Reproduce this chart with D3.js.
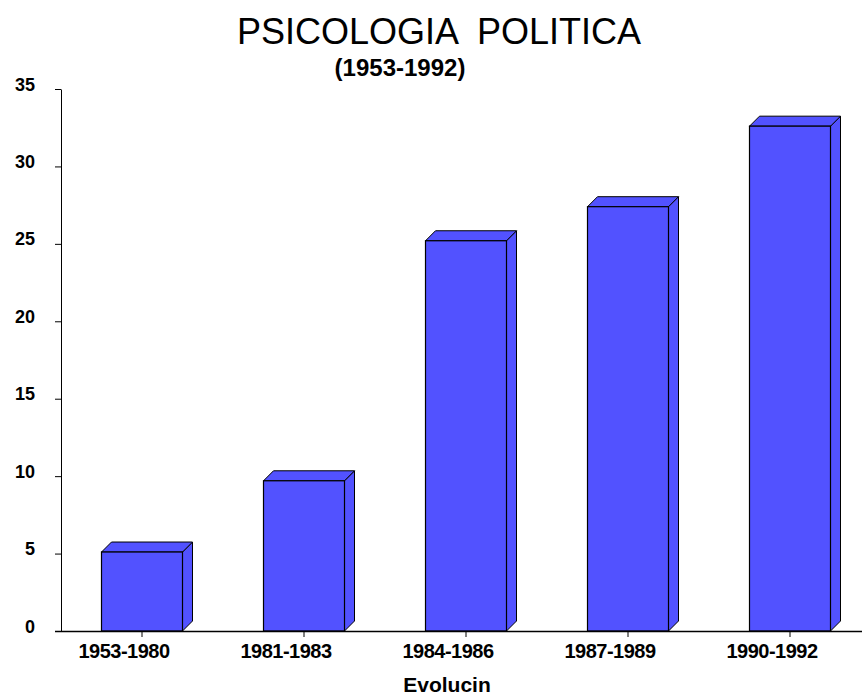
<!DOCTYPE html>
<html>
<head>
<meta charset="utf-8">
<script src="https://cdn.jsdelivr.net/npm/d3@7"></script>
<style>
  html, body { margin: 0; padding: 0; background: #fff; }
  svg { display: block; }
  text { font-family: "Liberation Sans", Arial, sans-serif; fill: #000; }
</style>
</head>
<body>
<svg id="chart" width="862" height="697"></svg>
<script>
// Periods and number of publications per period
const categories = ["1953-1980", "1981-1983", "1984-1986", "1987-1989", "1990-1992"];
const values = [5.1, 9.7, 25.2, 27.4, 32.6];
const yTicks = [0, 5, 10, 15, 20, 25, 30, 35];

const svg = d3.select("#chart");
const W = 862, H = 697;
const plot = { left: 61, right: 871, top: 89, bottom: 631 };
const depth = 10;
const barFill = "#5252FF";
const labelShift = -18; // category labels sit a little left of their ticks

const x = d3.scaleBand()
  .domain(categories)
  .range([plot.left, plot.right])
  .paddingInner(0.5)
  .paddingOuter(0.25);

const y = d3.scaleLinear()
  .domain([0, 35])
  .range([plot.bottom, plot.top]);

// Title
svg.append("text")
  .attr("x", 439).attr("y", 44)
  .attr("text-anchor", "middle")
  .style("font-size", "36px")
  .style("white-space", "pre")
  .text("PSICOLOGIA  POLITICA");

svg.append("text")
  .attr("x", 400).attr("y", 76)
  .attr("text-anchor", "middle")
  .style("font-size", "24px").style("font-weight", "bold")
  .text("(1953-1992)");

// Y axis
const yAxis = svg.append("g")
  .attr("transform", `translate(${plot.left},0)`)
  .call(d3.axisLeft(y).tickValues(yTicks).tickSize(6).tickPadding(20).tickSizeOuter(0));
yAxis.select(".domain").attr("stroke", "#000").attr("stroke-width", 1);
yAxis.selectAll(".tick line").attr("stroke", "#000");
yAxis.selectAll(".tick text")
  .style("font-size", "18px").style("font-weight", "bold")
  .attr("font-family", null)
  .attr("dy", "1px");

// Bars with a simple 3D extrusion
const bars = svg.append("g").selectAll("g.bar")
  .data(categories.map((c, i) => ({ c, v: values[i] })))
  .join("g").attr("class", "bar");

bars.append("path") // side face
  .attr("d", d => {
    const x1 = x(d.c) + x.bandwidth(), yt = y(d.v), yb = y(0);
    return `M${x1},${yt} L${x1 + depth},${yt - depth} L${x1 + depth},${yb - depth} L${x1},${yb} Z`;
  })
  .attr("fill", barFill).attr("stroke", "#000").attr("stroke-width", 1).attr("stroke-linejoin", "round");

bars.append("path") // top face
  .attr("d", d => {
    const x0 = x(d.c), x1 = x0 + x.bandwidth(), yt = y(d.v);
    return `M${x0},${yt} L${x0 + depth},${yt - depth} L${x1 + depth},${yt - depth} L${x1},${yt} Z`;
  })
  .attr("fill", barFill).attr("stroke", "#000").attr("stroke-width", 1).attr("stroke-linejoin", "round");

bars.append("rect") // front face
  .attr("x", d => x(d.c))
  .attr("y", d => y(d.v))
  .attr("width", x.bandwidth())
  .attr("height", d => y(0) - y(d.v))
  .attr("fill", barFill).attr("stroke", "#000").attr("stroke-width", 1.2);

// X axis
const xAxis = svg.append("g")
  .attr("transform", `translate(0,${plot.bottom})`)
  .call(d3.axisBottom(x).tickSize(6).tickPadding(6).tickSizeOuter(0));
xAxis.select(".domain").attr("d", `M${plot.left - 6},0.5H${W}`).attr("stroke", "#000").attr("stroke-width", 1.5);
xAxis.selectAll(".tick line").attr("stroke", "#000");
xAxis.selectAll(".tick text")
  .style("font-size", "20px").style("font-weight", "bold")
  .style("letter-spacing", "-0.5px")
  .attr("font-family", null)
  .attr("x", labelShift)
  .attr("y", 27)
  .attr("dy", null);

// X axis title
svg.append("text")
  .attr("x", 447).attr("y", 692)
  .attr("text-anchor", "middle")
  .style("font-size", "21px").style("font-weight", "bold")
  .text("Evolucin");
</script>
</body>
</html>
